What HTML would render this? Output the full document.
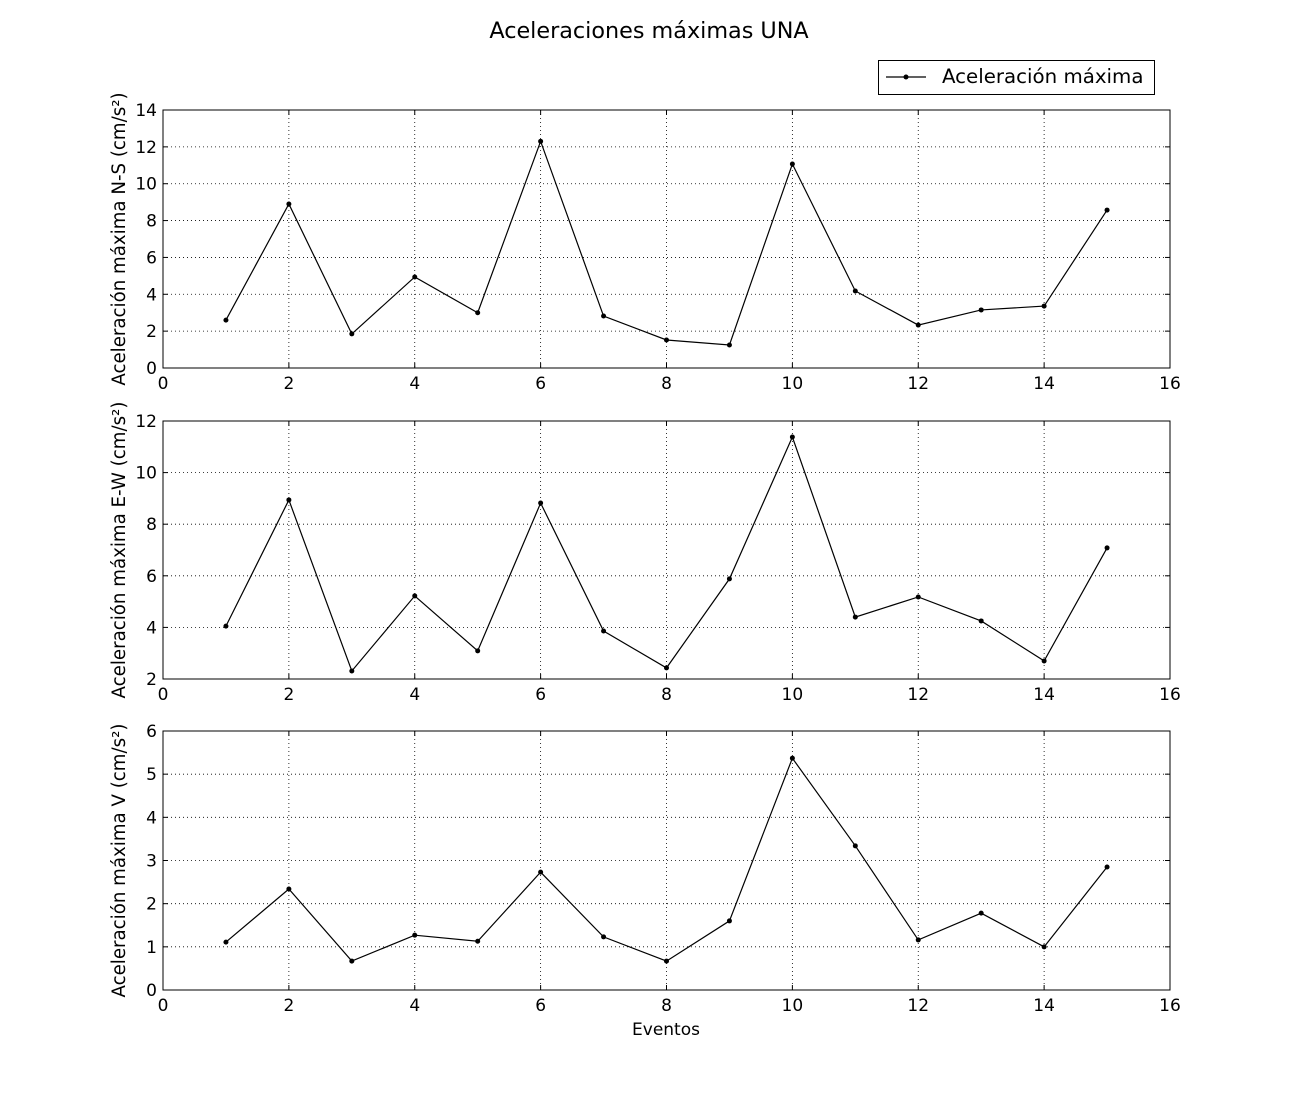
<!DOCTYPE html>
<html><head><meta charset="utf-8"><style>
body{margin:0;background:#fff;}
svg{display:block;font-family:"DejaVu Sans","Liberation Sans",sans-serif;}
</style></head><body>
<svg id="fig" width="1300" height="1100" viewBox="0 0 1300 1100">
<rect width="1300" height="1100" fill="#fff"/>
<text x="649" y="38" font-size="22.3" text-anchor="middle">Aceleraciones máximas UNA</text>
<g>
<rect x="878.5" y="60.5" width="276" height="34" fill="#fff" stroke="#000"/>
<line x1="886" y1="77" x2="926" y2="77" stroke="#000" stroke-width="1.2"/>
<circle cx="906" cy="77" r="2.5" fill="#000"/>
<text x="942" y="83" font-size="19.8">Aceleración máxima</text>
</g>
<text x="666" y="1035" font-size="17" text-anchor="middle">Eventos</text>
</svg>
<script>
const events=[1,2,3,4,5,6,7,8,9,10,11,12,13,14,15];
const nsValues=[2.6,8.9,1.85,4.94,3.0,12.3,2.82,1.52,1.25,11.07,4.18,2.33,3.15,3.36,8.57];
const ewValues=[4.05,8.94,2.31,5.22,3.09,8.82,3.86,2.43,5.88,11.38,4.4,5.18,4.25,2.7,7.08];
const vValues=[1.11,2.34,0.67,1.27,1.13,2.73,1.23,0.67,1.6,5.37,3.34,1.16,1.78,1.0,2.85];
const xTicks=[0,2,4,6,8,10,12,14,16];
const nsTicks=[0,2,4,6,8,10,12,14];
const ewTicks=[2,4,6,8,10,12];
const vTicks=[0,1,2,3,4,5,6];
const NS="http://www.w3.org/2000/svg";
const svg=document.getElementById('fig');
function mk(tag,attrs,parent){const e=document.createElementNS(NS,tag);for(const k in attrs)e.setAttribute(k,attrs[k]);(parent||svg).appendChild(e);return e;}
const L=163,R=1170;
const xs=v=>L+(v-0)/(16-0)*(R-L);
function panel(name,top,bot,ymin,ymax,yticks,vals,label){
  const g=mk('g',{});
  
  
  const ys=v=>bot-(v-ymin)/(ymax-ymin)*(bot-top);
  xTicks.forEach(t=>{
    const x=xs(t);
    if(t>0&&t<16){const gl=mk('line',{x1:x,x2:x,y1:top,y2:bot,stroke:'#000','stroke-dasharray':'1,3','stroke-width':0.8},g);
    }
    mk('line',{x1:x,x2:x,y1:bot,y2:bot-5,stroke:'#000'},g);
    mk('line',{x1:x,x2:x,y1:top,y2:top+5,stroke:'#000'},g);
    const tx=mk('text',{x:x,y:bot+21,'font-size':17,'text-anchor':'middle'},g);tx.textContent=t;
    
  });
  yticks.forEach(t=>{
    const y=ys(t);
    if(t>ymin&&t<ymax){const gl=mk('line',{x1:L,x2:R,y1:y,y2:y,stroke:'#000','stroke-dasharray':'1,3','stroke-width':0.8},g);
    }
    mk('line',{x1:L,x2:L+5,y1:y,y2:y,stroke:'#000'},g);
    mk('line',{x1:R,x2:R-5,y1:y,y2:y,stroke:'#000'},g);
    const tx=mk('text',{x:L-6,y:y+6,'font-size':17,'text-anchor':'end'},g);tx.textContent=t;
    
  });
  const fr=mk('rect',{x:L,y:top,width:R-L,height:bot-top,fill:'none',stroke:'#000','stroke-width':1},g);
  
  const pts=events.map((e,i)=>xs(e)+','+ys(vals[i])).join(' ');
  const pl=mk('polyline',{points:pts,fill:'none',stroke:'#000','stroke-width':1.2},g);
  
  events.forEach((e,i)=>{const c=mk('circle',{cx:xs(e),cy:ys(vals[i]),r:2.5,fill:'#000'},g);
    });
  const cy=(top+bot)/2;
  const yl=mk('text',{x:0,y:0,'font-size':18.2,'text-anchor':'middle',transform:`translate(125,${cy}) rotate(-90)`},g);
  yl.textContent=label;
  
}
panel('ns',110,368,0,14,nsTicks,nsValues,'Aceleración máxima N-S (cm/s²)');
panel('ew',421,679,2,12,ewTicks,ewValues,'Aceleración máxima E-W (cm/s²)');
panel('v',731,990,0,6,vTicks,vValues,'Aceleración máxima V (cm/s²)');
</script>
</body></html>
